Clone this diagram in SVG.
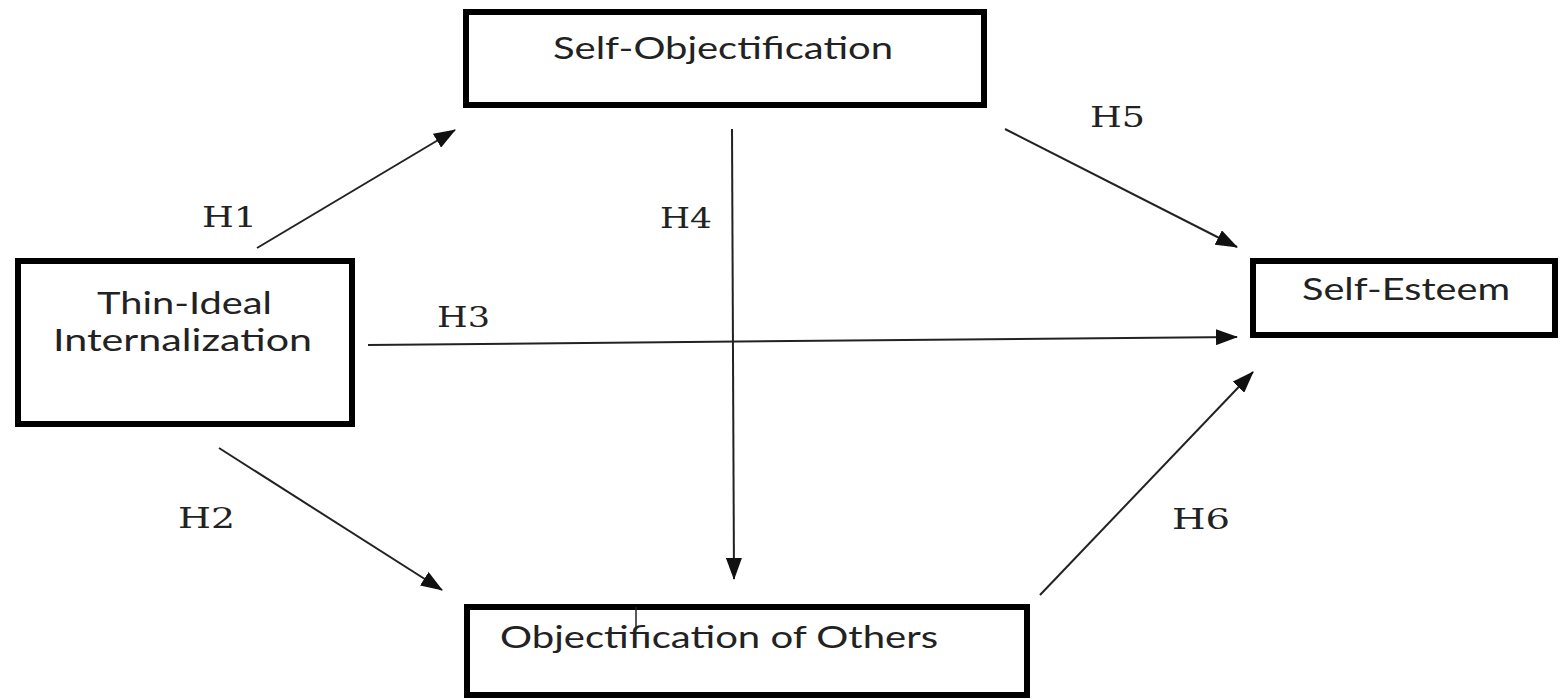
<svg xmlns="http://www.w3.org/2000/svg" width="1562" height="699" viewBox="0 0 1562 699">
<style>
.box{fill:#fff;stroke:#000;stroke-width:6}
.bt{font-family:Lato,"Open Sans",sans-serif;font-size:31px;fill:#222}
.lb{font-family:"DejaVu Serif","Liberation Serif",serif;font-size:27px;fill:#222}
.ar{stroke:#222;stroke-width:2;fill:none;marker-end:url(#ah)}
</style>
<defs>
<marker id="ah" markerUnits="userSpaceOnUse" markerWidth="22" markerHeight="16" refX="21" refY="8" orient="auto">
<path d="M0,0 L22,8 L0,16 Z" fill="#111"/>
</marker>
</defs>
<rect width="1562" height="699" fill="#fff"/>
<g id="connectors">
<line class="ar" x1="257" y1="248" x2="455" y2="130"/>
<line class="ar" x1="219" y1="448" x2="442" y2="590"/>
<line class="ar" x1="368" y1="345" x2="1237" y2="337"/>
<line class="ar" x1="732" y1="129" x2="734" y2="579"/>
<line class="ar" x1="1005" y1="129" x2="1237" y2="247"/>
<line class="ar" x1="1040" y1="595" x2="1253" y2="372"/>
<text class="lb" x="202" y="227" textLength="55" lengthAdjust="spacingAndGlyphs">H1</text>
<text class="lb" x="178" y="528" textLength="57" lengthAdjust="spacingAndGlyphs">H2</text>
<text class="lb" x="437" y="327" textLength="53" lengthAdjust="spacingAndGlyphs">H3</text>
<text class="lb" x="660" y="228" textLength="52" lengthAdjust="spacingAndGlyphs">H4</text>
<text class="lb" x="1090" y="127" textLength="55" lengthAdjust="spacingAndGlyphs">H5</text>
<text class="lb" x="1172" y="529" textLength="58" lengthAdjust="spacingAndGlyphs">H6</text>
</g>
<g id="self-objectification">
<rect class="box" x="466" y="12" width="518" height="93"/>
<text class="bt" x="553" y="59" textLength="340" lengthAdjust="spacingAndGlyphs">Self-Objectification</text>
</g>
<g id="thin-ideal">
<rect class="box" x="18" y="261" width="334" height="163"/>
<text class="bt" x="97" y="314" textLength="175" lengthAdjust="spacingAndGlyphs">Thin-Ideal</text>
<text class="bt" x="53" y="351" textLength="259" lengthAdjust="spacingAndGlyphs">Internalization</text>
</g>
<g id="self-esteem">
<rect class="box" x="1253" y="261" width="302" height="74"/>
<text class="bt" x="1302" y="300" textLength="208" lengthAdjust="spacingAndGlyphs">Self-Esteem</text>
</g>
<g id="objectification-of-others">
<rect class="box" x="467" y="607" width="560" height="88"/>
<line x1="636" y1="607" x2="636" y2="627" stroke="#222" stroke-width="1.5"/>
<text class="bt" x="500" y="648" textLength="438" lengthAdjust="spacingAndGlyphs">Objectification of Others</text>
</g>
</svg>
